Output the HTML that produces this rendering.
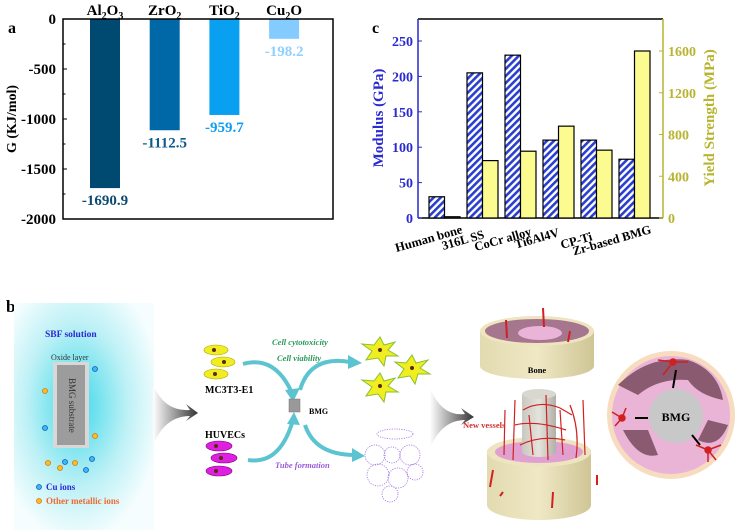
<!DOCTYPE html>
<html><head><meta charset="utf-8"><style>
body{margin:0;background:#fff;}
svg{display:block;font-family:"Liberation Serif",serif;}
</style></head><body>
<svg width="738" height="532" viewBox="0 0 738 532">
<defs>
<pattern id="hatch" width="5" height="5" patternUnits="userSpaceOnUse" patternTransform="rotate(45)">
<rect width="5" height="5" fill="#fff"/><rect width="2.6" height="5" fill="#2a3fd0"/></pattern>
<radialGradient id="sbf" cx="0.45" cy="0.45" r="0.6"><stop offset="0" stop-color="#3fd8e8"/><stop offset="0.6" stop-color="#bdf1f6"/><stop offset="1" stop-color="#f5fdfe"/></radialGradient>
<linearGradient id="garrow" x1="0" x2="1"><stop offset="0" stop-color="#fff"/><stop offset="1" stop-color="#333"/></linearGradient>
<linearGradient id="cyl" x1="0" x2="1"><stop offset="0" stop-color="#e2dab0"/><stop offset="0.5" stop-color="#efe8c4"/><stop offset="1" stop-color="#cfc596"/></linearGradient>
<linearGradient id="gcyl" x1="0" x2="1"><stop offset="0" stop-color="#c8c8c0"/><stop offset="0.5" stop-color="#e4e4dc"/><stop offset="1" stop-color="#b0b0a8"/></linearGradient>
</defs>
<g id="panelA"></g>
<g id="panelC"></g>

<!-- Panel b -->
<g>
<text x="6" y="312" font-size="17" font-weight="bold">b</text>
<rect x="14" y="303" width="140" height="227" fill="url(#sbf)"/>
<text x="45" y="337" font-size="9.5" font-weight="bold" fill="#2a2ad8">SBF solution</text>
<text x="51" y="360" font-size="8" fill="#333">Oxide layer</text>
<rect x="53" y="362" width="36" height="86" fill="#d8d8d8"/>
<rect x="57" y="365" width="28" height="80" fill="#9c9c9c"/>
<text transform="translate(69,378) rotate(90)" font-size="9" fill="#333">BMG substrate</text>
<g stroke-width="0.8">
<circle cx="95" cy="369" r="2.5" fill="#2ec0f0" stroke="#2050c0"/><circle cx="45" cy="428" r="2.5" fill="#2ec0f0" stroke="#2050c0"/>
<circle cx="65" cy="462" r="2.5" fill="#2ec0f0" stroke="#2050c0"/><circle cx="92" cy="459" r="2.5" fill="#2ec0f0" stroke="#2050c0"/>
<circle cx="86" cy="470" r="2.5" fill="#2ec0f0" stroke="#2050c0"/>
<circle cx="45" cy="391" r="2.5" fill="#f8c020" stroke="#e07010"/><circle cx="95" cy="436" r="2.5" fill="#f8c020" stroke="#e07010"/>
<circle cx="48" cy="463" r="2.5" fill="#f8c020" stroke="#e07010"/><circle cx="60" cy="468" r="2.5" fill="#f8c020" stroke="#e07010"/>
<circle cx="75" cy="463" r="2.5" fill="#f8c020" stroke="#e07010"/>
<circle cx="39" cy="487" r="2.5" fill="#2ec0f0" stroke="#2050c0"/><circle cx="39" cy="501" r="2.5" fill="#f8c020" stroke="#e07010"/>
</g>
<text x="46" y="490" font-size="9" font-weight="bold" fill="#2a2ad8">Cu ions</text>
<text x="46" y="504" font-size="9" font-weight="bold" fill="#f06a30">Other metallic ions</text>
<path d="M153,385 Q165,412 190,410 L186,404 L198,413 L186,421 L190,416 Q165,416 153,445 Z" fill="url(#garrow)"/>
<g fill="#f0ee20" stroke="#b0a000" stroke-width="0.6">
<ellipse cx="216" cy="350" rx="12" ry="5"/><ellipse cx="223" cy="362" rx="12" ry="5"/><ellipse cx="216" cy="374" rx="12" ry="5"/></g>
<g fill="#5a2a10"><circle cx="214" cy="350" r="2"/><circle cx="224" cy="362" r="2"/><circle cx="215" cy="374" r="2"/></g>
<text x="205" y="393" font-size="10" font-weight="bold">MC3T3-E1</text>
<text x="205" y="438" font-size="10" font-weight="bold">HUVECs</text>
<g fill="#e020e0" stroke="#800080" stroke-width="0.6">
<ellipse cx="219" cy="446" rx="13" ry="5"/><ellipse cx="224" cy="458" rx="13" ry="5"/><ellipse cx="219" cy="471" rx="13" ry="5"/></g>
<g fill="#5a2a10"><circle cx="216" cy="446" r="2"/><circle cx="221" cy="458" r="2"/><circle cx="216" cy="471" r="2"/></g>
<g fill="none" stroke="#5cc4d0" stroke-width="4">
<path d="M243,364 Q275,355 292,393"/><path d="M248,460 Q280,465 293,420"/>
<path d="M300,390 Q310,355 350,362"/><path d="M305,425 Q315,455 355,455"/></g>
<g fill="#5cc4d0"><path d="M285,390 L300,388 L293,402Z"/><path d="M287,424 L294,412 L300,425Z"/><path d="M348,355 L362,363 L348,369Z"/><path d="M352,448 L365,456 L352,462Z"/></g>
<rect x="289" y="399" width="11" height="13" fill="#999" stroke="#777" stroke-width="0.5"/>
<text x="309" y="414" font-size="8" font-weight="bold">BMG</text>
<text x="272" y="345" font-size="8.5" font-weight="bold" font-style="italic" fill="#2a9a5a">Cell cytotoxicity</text>
<text x="277" y="361" font-size="8.5" font-weight="bold" font-style="italic" fill="#2a9a5a">Cell viability</text>
<text x="275" y="468" font-size="8.5" font-weight="bold" font-style="italic" fill="#9a5ad8">Tube formation</text>
<g fill="#f0ee20" stroke="#8ac030" stroke-width="1">
<polygon points="380,337 384,345 395,342 388,350 398,356 386,356 384,366 378,358 366,360 372,351 362,344 374,345"/>
<polygon points="412,355 416,363 428,360 420,368 430,374 418,374 415,384 410,376 398,378 404,369 395,362 406,363"/>
<polygon points="380,373 384,381 395,378 388,386 398,392 386,392 384,402 378,394 366,396 372,387 362,380 374,381"/></g>
<g fill="#5a2a10"><circle cx="380" cy="350" r="2"/><circle cx="412" cy="368" r="2"/><circle cx="380" cy="386" r="2"/></g>
<g fill="none" stroke="#a070e0" stroke-width="0.8" stroke-dasharray="1.2,1.2">
<ellipse cx="395" cy="434" rx="18" ry="5"/><circle cx="375" cy="455" r="10"/><circle cx="392" cy="455" r="8"/><circle cx="410" cy="455" r="10"/>
<circle cx="378" cy="475" r="11"/><circle cx="398" cy="478" r="10"/><circle cx="415" cy="472" r="8"/><circle cx="390" cy="494" r="8"/></g>
<path d="M430,388 Q442,417 465,414 L461,408 L474,417 L461,425 L465,420 Q442,420 430,448 Z" fill="url(#garrow)"/>
<g>
<path d="M480,331 L480,366 A57,13 0 0 0 594,366 L594,331 Z" fill="url(#cyl)"/>
<ellipse cx="537" cy="331" rx="57" ry="15" fill="#eee4c0"/>
<ellipse cx="537" cy="331" rx="52" ry="12" fill="#a6758e"/>
<ellipse cx="540" cy="333" rx="22" ry="7" fill="#eab4d8"/>
<path d="M506,320 L507,338 M543,308 L544,327 M570,331 L568,342" stroke="#d02020" stroke-width="2"/>
<text x="537" y="373" font-size="8.5" font-weight="bold" text-anchor="middle">Bone</text></g>
<g>
<path d="M487,450 L487,505 A52,15 0 0 0 591,505 L591,450 Z" fill="url(#cyl)"/>
<ellipse cx="539" cy="452" rx="52" ry="15" fill="#eee4c0"/>
<ellipse cx="539" cy="452" rx="44" ry="11" fill="#e0a0d0"/>
<path d="M493,470 L490,487 M503,492 L500,496 M553,492 L552,508 M597,475 L597,485" stroke="#d02020" stroke-width="2"/></g>
<g>
<path d="M522,394 L522,452 A17,5 0 0 0 556,452 L556,394 Z" fill="url(#gcyl)"/>
<ellipse cx="539" cy="394" rx="17" ry="5" fill="#d8d8d0"/></g>
<g fill="none" stroke="#d02020" stroke-width="1.2">
<path d="M515,400 L513,460 M523,410 Q540,400 560,408 L572,415 M546,395 L548,460 M560,410 L563,455 M529,415 L533,455 M570,405 Q580,430 576,458 M515,425 Q535,420 566,430 M520,445 Q540,435 565,440 M505,410 L504,455 M583,400 L585,455"/></g>
<text x="463" y="428" font-size="8.5" font-weight="bold" fill="#d03030">New vessels</text>
<g>
<circle cx="671" cy="415" r="64" fill="#f7dcc0"/>
<circle cx="671" cy="415" r="59" fill="#e9b4d6"/>
<path d="M618,385 Q648,355 688,360 Q718,370 723,400 Q698,395 688,380 Q658,378 638,395 Z" fill="#8a5a70"/>
<path d="M623,430 Q638,460 658,455 L648,430 Z M698,440 Q718,450 728,425 L708,420 Z" fill="#8a5a70"/>
<circle cx="676" cy="416" r="27" fill="#c8c8c8"/>
<text x="676" y="421" font-size="12" font-weight="bold" text-anchor="middle">BMG</text>
<g stroke="#000" stroke-width="2"><path d="M673,388 L676,370 M648,418 L635,418 M692,435 L700,445"/></g>
<g stroke="#d02020" stroke-width="1.5" fill="#d02020"><circle cx="673" cy="362" r="3"/><circle cx="622" cy="418" r="3"/><circle cx="708" cy="450" r="3"/>
<path d="M673,362 L658,360 M673,362 L688,362 M673,362 L663,375 M622,418 L612,412 M622,418 L615,426 M622,418 L626,408 M708,450 L696,445 M708,450 L721,445 M708,450 L708,462 M708,450 L716,460"/></g>
</g>
</g>

<script>
const NS="http://www.w3.org/2000/svg";
function mk(p,tag,attrs,txt){const e=document.createElementNS(NS,tag);for(const k in attrs)e.setAttribute(k,attrs[k]);if(txt!==undefined)e.textContent=txt;p.appendChild(e);return e;}

// Panel a data
const oxides=["Al|2|O|3","Zr|O|2","Ti|O|2","Cu|2|O"];
const gibbs=[-1690.9,-1112.5,-959.7,-198.2];
const gibbsLabels=["-1690.9","-1112.5","-959.7","-198.2"];
const aTicks=[0,-500,-1000,-1500,-2000];
const aColors=["#004a72","#0068a6","#0aa0f2","#84ccff"];
const aLabelColors=["#0c4a72","#0c5a8a","#109ef0","#90d0ff"];

const A=document.getElementById('panelA');
const aL=63,aR=333,aT=19,aB=219;
const ay=v=>aT+(0-v)/2000*(aB-aT);
const ax=i=>105+i*59.7;
mk(A,'text',{x:8,y:33,'font-size':16,'font-weight':'bold',},'a');
mk(A,'text',{transform:'translate(16,119) rotate(-90)','text-anchor':'middle','font-size':14,'font-weight':'bold',},'G (KJ/mol)');
aTicks.forEach(t=>{
  const tl=mk(A,'text',{x:56,y:ay(t)+5,'text-anchor':'end','font-size':15,'font-weight':'bold'},String(t));
  
  
  mk(A,'line',{x1:aL,x2:aL+4,y1:ay(t),y2:ay(t),stroke:'#000','stroke-width':1});
});
for(let t=-250;t>-2000;t-=500){mk(A,'line',{x1:aL,x2:aL+2.5,y1:ay(t),y2:ay(t),stroke:'#000','stroke-width':1});}
gibbs.forEach((v,i)=>{
  const b=mk(A,'rect',{x:ax(i)-15,y:ay(0),width:30,height:ay(v)-ay(0),fill:aColors[i]});
  
  
  const l=mk(A,'text',{x:ax(i),y:ay(v)+17,'text-anchor':'middle','font-size':15,'font-weight':'bold',fill:aLabelColors[i]},gibbsLabels[i]);
  
  
  const parts=oxides[i].split('|');
  const c=mk(A,'text',{x:ax(i),y:15,'text-anchor':'middle','font-size':15,'font-weight':'bold'});
  
  
  let pending=0;
  parts.forEach(p=>{
    if(/^\d$/.test(p)){mk(c,'tspan',{'font-size':10,dy:4-pending},p);pending=4;}
    else {mk(c,'tspan',{dy:-pending,'font-size':15},p);pending=0;}
  });
});
const fr=mk(A,'rect',{x:aL,y:aT,width:aR-aL,height:aB-aT,fill:'none',stroke:'#000','stroke-width':1.5});



// Panel c data
const materials=["Human bone","316L SS","CoCr alloy","Ti6Al4V","CP-Ti","Zr-based BMG"];
const modulus=[30,205,230,110,110,83];
const yieldStr=[12,550,640,880,650,1600];
const modTicks=[0,50,100,150,200,250];
const ysTicks=[0,400,800,1200,1600];

const C=document.getElementById('panelC');
const cL=418,cR=663,cT=19,cB=218;
const my=v=>cB-v*(177/250);
const yy=v=>cB-v*(167/1600);
const cx=i=>429+i*38;
const bw=15.5;
const labelDx=[3,-13,-4,-14,-19,2];
const labelDy=[15,20,17,18,22,15];
mk(C,'text',{x:372,y:33,'font-size':16,'font-weight':'bold',},'c');
mk(C,'text',{transform:'translate(383,118) rotate(-90)','text-anchor':'middle','font-size':15,'font-weight':'bold',fill:'#2a2ad0',},'Modulus (GPa)');
mk(C,'text',{transform:'translate(714,118) rotate(-90)','text-anchor':'middle','font-size':15,'font-weight':'bold',fill:'#b8b430',},'Yield Strength (MPa)');
mk(C,'line',{x1:cL,x2:cR,y1:cT,y2:cT,stroke:'#000','stroke-width':1.5});
mk(C,'line',{x1:cL,x2:cR,y1:cB,y2:cB,stroke:'#000','stroke-width':1.5});
mk(C,'line',{x1:cL,x2:cL,y1:cT,y2:cB,stroke:'#2a2ad0','stroke-width':1.5});
mk(C,'line',{x1:cR,x2:cR,y1:cT,y2:cB,stroke:'#b8b430','stroke-width':1.5});
modTicks.forEach(t=>{
  const l=mk(C,'text',{x:413,y:my(t)+5,'text-anchor':'end','font-size':14,'font-weight':'bold',fill:'#2a2ad0'},String(t));
  
  
  mk(C,'line',{x1:cL,x2:cL+4,y1:my(t),y2:my(t),stroke:'#2a2ad0'});
});
ysTicks.forEach(t=>{
  const l=mk(C,'text',{x:668,y:yy(t)+5,'font-size':14,'font-weight':'bold',fill:'#b8b430'},String(t));
  
  
  mk(C,'line',{x1:cR-4,x2:cR,y1:yy(t),y2:yy(t),stroke:'#b8b430'});
});
materials.forEach((m,i)=>{
  const b1=mk(C,'rect',{x:cx(i),y:my(modulus[i]),width:bw,height:cB-my(modulus[i]),fill:'url(#hatch)',stroke:'#000','stroke-width':1.2});
  
  
  const b2=mk(C,'rect',{x:cx(i)+bw,y:yy(yieldStr[i]),width:bw,height:cB-yy(yieldStr[i]),fill:'#fbfb90',stroke:'#000','stroke-width':1.2});
  
  
  const t=mk(C,'text',{transform:`translate(${cx(i)+bw*2+labelDx[i]},${cB+labelDy[i]}) rotate(-16)`,'text-anchor':'end','font-size':12.5,'font-weight':'bold'},m);
  
  
});
</script>
</svg>
</body></html>
